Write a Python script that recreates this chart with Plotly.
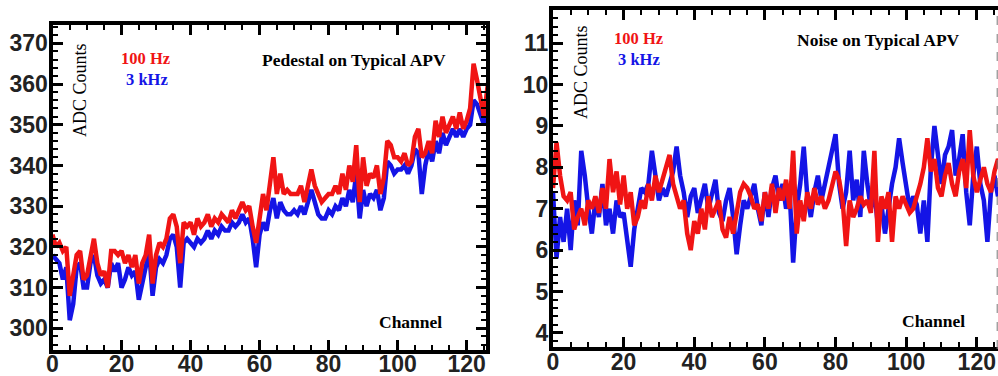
import plotly.graph_objects as go

channels = list(range(128))

ped_100hz = [323,320,321,319,320,308,313,318,319,312,313,318,322,316,313,314,310,319,319,318,
             319,316,318,315,318,311,316,318,323,311,318,321,320,322,327,328,325,316,326,325,
             326,323,327,325,326,328,325,327,326,328,327,326,329,327,329,331,329,330,325,321,
             327,333,329,336,342,333,338,333,334,333,333,333,335,331,335,339,335,333,331,332,
             333,333,335,333,338,334,340,336,345,331,342,335,338,337,340,333,337,346,345,342,
             342,341,343,340,341,347,349,342,343,346,343,351,347,352,348,350,352,349,353,349,
             351,354,365,361,357,352,359,365]
ped_3khz = [318,317,316,312,315,302,306,315,316,310,310,316,318,313,311,312,310,316,314,316,
            310,312,315,313,314,307,311,314,319,308,315,317,316,318,322,323,320,310,321,322,
            321,320,322,321,322,324,322,324,323,325,324,324,326,325,326,328,326,327,322,315,
            323,326,324,329,332,327,331,329,328,328,329,328,330,328,331,334,331,328,327,327,
            329,328,330,329,332,330,334,331,338,327,334,330,333,332,334,329,332,341,340,338,
            339,339,340,338,340,344,343,333,340,344,341,346,343,348,345,347,349,347,349,347,
            349,350,356,355,352,350,354,358]
noise_100hz = [7.5,8.6,7.8,7.3,7.2,7.4,6.5,6.8,7.0,6.6,7.2,7.0,7.3,6.9,7.5,7.0,8.2,7.4,7.9,7.1,
               7.8,7.0,7.4,6.6,6.8,7.2,7.0,7.6,7.2,7.8,7.4,7.7,8.0,8.3,7.6,7.3,7.0,7.2,6.4,6.0,
               6.7,6.4,7.0,6.5,7.3,6.8,7.0,7.2,6.5,6.3,6.8,6.4,6.9,7.4,7.6,7.5,7.3,7.0,7.1,6.7,
               7.4,7.0,7.6,6.9,7.5,7.2,7.7,7.0,8.4,6.4,7.2,6.7,7.4,7.0,7.5,7.1,7.3,7.0,7.2,7.6,
               7.9,7.7,7.2,6.1,7.2,6.8,7.0,7.3,7.1,7.2,6.9,8.4,6.2,7.3,7.0,7.4,6.2,7.3,7.0,7.3,
               7.1,6.9,7.0,7.3,7.6,8.0,8.7,7.9,8.2,7.5,7.3,7.8,8.1,7.6,7.3,7.9,8.2,7.5,8.9,7.8,
               7.4,7.7,8.0,7.6,7.4,7.9,8.2,8.0]
noise_3khz = [7.4,5.8,6.8,6.2,7.0,6.0,7.2,6.6,8.4,7.8,7.0,6.4,7.2,6.8,7.6,6.6,7.0,6.4,7.2,6.8,
              6.9,6.3,5.6,6.5,7.0,7.5,7.4,7.6,8.4,7.7,7.2,7.5,7.3,7.6,7.9,8.5,7.8,7.4,6.8,7.3,
              7.5,6.9,7.3,7.6,7.0,7.4,7.7,6.9,6.7,7.2,7.5,6.8,5.9,6.6,7.2,7.0,7.3,7.6,7.0,6.6,
              7.4,6.8,7.5,7.8,7.2,7.6,7.0,7.4,5.7,7.0,7.6,8.5,7.3,6.8,7.4,7.8,7.2,7.6,7.9,8.3,
              8.8,7.6,7.0,7.4,8.4,7.2,7.7,6.8,8.4,7.6,7.0,7.4,6.6,7.1,6.4,7.0,7.6,8.0,8.7,8.1,
              7.5,7.0,7.3,7.1,6.4,7.2,6.2,8.0,9.0,8.2,7.6,8.3,8.5,8.9,7.8,8.2,8.8,7.4,6.6,7.8,
              8.5,7.6,7.2,6.2,7.4,7.8,7.3,7.6]

RED = "#f01414"
BLUE = "#1414e6"
W, H = 998, 376
LW = 4.5

fig = go.Figure()
fig.add_trace(go.Scatter(x=channels, y=ped_3khz, xaxis="x", yaxis="y", mode="lines",
                         line=dict(color=BLUE, width=LW), showlegend=False))
fig.add_trace(go.Scatter(x=channels, y=ped_100hz, xaxis="x", yaxis="y", mode="lines",
                         line=dict(color=RED, width=LW), showlegend=False))
fig.add_trace(go.Scatter(x=channels, y=noise_3khz, xaxis="x2", yaxis="y2", mode="lines",
                         line=dict(color=BLUE, width=LW), showlegend=False))
fig.add_trace(go.Scatter(x=channels, y=noise_100hz, xaxis="x2", yaxis="y2", mode="lines",
                         line=dict(color=RED, width=LW), showlegend=False))

tickfont = dict(family="Liberation Sans, Arial, sans-serif", size=23, color="#222", weight="bold")

def ax(**kw):
    d = dict(showline=True, linewidth=4, linecolor="black", ticks="inside", ticklen=10,
             tickwidth=3, tickcolor="black", showgrid=False, zeroline=False, tickfont=tickfont,
             automargin=False)
    d.update(kw)
    return d

xminor = dict(ticks="inside", ticklen=5, tickwidth=2, dtick=5, tickcolor="black")

fig.update_layout(
    template="none",
    width=W, height=H, margin=dict(l=0, r=0, t=0, b=0, pad=0),
    paper_bgcolor="white", plot_bgcolor="white",
    xaxis=ax(domain=[52.5 / W, 486 / W], range=[0, 125.6], anchor="y", mirror="ticks",
             tick0=0, dtick=20, ticklabelstandoff=-9, minor=xminor),
    yaxis=ax(domain=[(H - 349.5) / H, (H - 25) / H], range=[294.8, 374.5], anchor="x",
             mirror="ticks", tick0=300, dtick=10, ticklabelstandoff=-4,
             minor=dict(ticks="inside", ticklen=5, tickwidth=2, dtick=2, tickcolor="black")),
    xaxis2=ax(domain=[553 / W, 1.0], range=[0, 126], anchor="y2", mirror="ticks",
              tick0=0, dtick=20, ticklabelstandoff=-9, minor=xminor),
    yaxis2=ax(domain=[(H - 347) / H, (H - 10) / H], range=[3.66, 11.8], anchor="x2",
              mirror=False, tick0=4, dtick=1, ticklabelstandoff=-4,
              minor=dict(ticks="inside", ticklen=5, tickwidth=2, dtick=0.2, tickcolor="black")),
    yaxis3=dict(overlaying="y2", anchor="x2", side="right", range=[3.66, 11.8],
                showline=False, showgrid=False, zeroline=False, showticklabels=False,
                automargin=False,
                ticks="inside", ticklen=10, tickwidth=3, tickcolor="black", tick0=4, dtick=1,
                minor=dict(ticks="inside", ticklen=5, tickwidth=2, dtick=0.2, tickcolor="black")),
)

serif = "Liberation Serif, Times New Roman, serif"
anns = [
    dict(text="ADC Counts", x=80, y=90, size=18, color="black", bold=False, angle=-90),
    dict(text="100 Hz", x=145, y=58, size=16.5, color=RED, bold=True, angle=0),
    dict(text="3 kHz", x=147, y=79, size=16.5, color=BLUE, bold=True, angle=0),
    dict(text="Pedestal on Typical APV", x=354, y=60, size=17.5, color="black", bold=True, angle=0),
    dict(text="Channel", x=410, y=322, size=17.5, color="black", bold=True, angle=0),
    dict(text="ADC Counts", x=581, y=72, size=18, color="black", bold=False, angle=-90),
    dict(text="100 Hz", x=638, y=38, size=16.5, color=RED, bold=True, angle=0),
    dict(text="3 kHz", x=639, y=59, size=16.5, color=BLUE, bold=True, angle=0),
    dict(text="Noise on Typical APV", x=878, y=40, size=17.5, color="black", bold=True, angle=0),
    dict(text="Channel", x=933, y=321, size=17.5, color="black", bold=True, angle=0),
]
for a in anns:
    fig.add_annotation(
        text=a["text"], x=a["x"] / W, y=1 - a["y"] / H, xref="paper", yref="paper",
        xanchor="center", yanchor="middle", showarrow=False, textangle=a["angle"],
        borderpad=0,
        font=dict(family=serif, size=a["size"], color=a["color"],
                  weight="bold" if a["bold"] else "normal"),
    )

fig.add_shape(type="line", xref="paper", yref="paper", x0=0.9992, x1=0.9992,
              y0=(H - 349) / H, y1=(H - 8) / H,
              line=dict(color="#777", width=1, dash="dash"))

fig.write_html("out.html")
